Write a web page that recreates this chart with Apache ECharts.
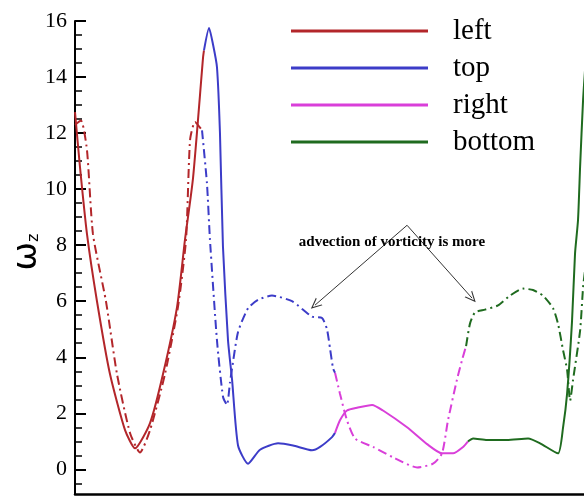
<!DOCTYPE html>
<html>
<head>
<meta charset="utf-8">
<script src="https://cdn.jsdelivr.net/npm/echarts@6/dist/echarts.min.js"></script>
<style>
  html, body { margin: 0; padding: 0; background: #fff; }
  #chart { width: 584px; height: 497px; }
</style>
</head>
<body>
<div id="chart"></div>
<script>
// 曲线名称（图例）
const seriesNames = ['left', 'top', 'right', 'bottom'];
const seriesColors = ['#b3262a', '#3c3cc8', '#d93fd9', '#1f6b1f'];

// 沿边界的位置 s (0-4)，数值 ωz
const leftSolid = [[0, 12.75], [0.038, 10.8], [0.092, 8.4], [0.169, 6.0], [0.269, 3.4], [0.385, 1.4],
  [0.462, 0.75], [0.577, 1.65], [0.677, 3.4], [0.785, 5.8], [0.846, 8.2], [0.908, 10.4], [0.985, 14.7], [0.992, 14.95]];
const leftDash = [[0, 12.3], [0.046, 12.45], [0.092, 11.4], [0.138, 8.4], [0.238, 6.0], [0.323, 3.4], [0.423, 1.3],
  [0.5, 0.6], [0.577, 1.4], [0.692, 3.4], [0.792, 5.8], [0.854, 8.2], [0.885, 11.75], [0.923, 12.4], [0.977, 12.1]];
const topSolid = [[0.992, 14.95], [1.031, 15.75], [1.062, 15.15], [1.092, 14.35], [1.115, 12.0], [1.138, 7.95],
  [1.177, 4.6], [1.208, 3.2], [1.254, 0.85], [1.331, 0.2], [1.423, 0.7], [1.562, 0.93], [1.677, 0.85],
  [1.823, 0.68], [1.885, 0.8], [1.977, 1.15], [2.0, 1.3]];
const topDash = [[0.977, 12.1], [1.015, 10.2], [1.038, 8.2], [1.092, 4.6], [1.138, 2.6], [1.169, 2.3], [1.192, 3.1],
  [1.208, 3.6], [1.254, 4.9], [1.331, 5.75], [1.408, 6.05], [1.515, 6.2], [1.669, 6.0], [1.823, 5.45],
  [1.9, 5.4], [1.938, 5.0], [1.962, 4.3], [1.985, 3.6], [2.0, 3.45]];
const rightSolid = [[2.0, 1.3], [2.038, 1.75], [2.092, 2.1], [2.169, 2.2], [2.285, 2.3], [2.369, 2.1], [2.554, 1.5],
  [2.708, 0.9], [2.823, 0.57], [2.908, 0.57], [2.985, 0.8], [3.023, 1.0]];
const rightDash = [[2.0, 3.45], [2.038, 2.7], [2.092, 1.75], [2.154, 1.1], [2.292, 0.8], [2.446, 0.43], [2.631, 0.07],
  [2.754, 0.2], [2.823, 0.57], [2.869, 1.75], [2.938, 3.2], [2.977, 3.9], [3.008, 4.4]];
const bottomSolid = [[3.023, 1.0], [3.062, 1.1], [3.169, 1.05], [3.323, 1.05], [3.485, 1.1], [3.577, 0.93],
  [3.715, 0.57], [3.754, 1.5], [3.785, 2.7], [3.823, 5.3], [3.846, 7.7], [3.869, 8.9], [3.885, 10.8],
  [3.908, 13.2], [3.923, 14.25]];
const bottomDash = [[3.008, 4.4], [3.038, 5.2], [3.077, 5.6], [3.154, 5.7], [3.254, 5.85], [3.346, 6.2], [3.446, 6.45],
  [3.523, 6.4], [3.6, 6.2], [3.677, 5.75], [3.715, 5.2], [3.754, 4.25], [3.785, 3.55], [3.808, 2.45],
  [3.831, 3.2], [3.885, 4.95], [3.908, 6.5], [3.923, 7.1]];

// y轴刻度
const majorTicks = [0, 2, 4, 6, 8, 10, 12, 14, 16];
const minorTicks = [-0.5, 0.5, 1, 1.5, 2.5, 3, 3.5, 4.5, 5, 5.5, 6.5, 7, 7.5, 8.5, 9, 9.5,
  10.5, 11, 11.5, 12.5, 13, 13.5, 14.5, 15, 15.5];

const chart = echarts.init(document.getElementById('chart'));

const solidData = [leftSolid, topSolid, rightSolid, bottomSolid];
const dashData = [leftDash, topDash, rightDash, bottomDash];

let series = [];
seriesNames.forEach(function (name, i) {
  series.push({
    name: name,
    type: 'line',
    data: solidData[i],
    showSymbol: false,
    smooth: 0.2,
    color: seriesColors[i],
    lineStyle: { width: 2, color: seriesColors[i] }
  });
});
seriesNames.forEach(function (name, i) {
  series.push({
    name: name + '-dash',
    type: 'line',
    data: dashData[i],
    showSymbol: false,
    smooth: 0.2,
    color: seriesColors[i],
    lineStyle: { width: 2, color: seriesColors[i], type: [9, 4, 2, 4] }
  });
});

// 注释箭头（开口箭头）
const openArrow = 'path://M5,0 L10,10 L8.8,10 L5,2.4 L1.2,10 L0,10 Z';
series[0].markLine = {
  silent: true,
  animation: false,
  symbol: ['none', openArrow],
  symbolSize: [10, 11],
  label: { show: false },
  lineStyle: { color: '#333', width: 1, type: 'solid' },
  data: [
    [{ coord: [2.554, 8.71] }, { coord: [1.846, 5.86] }],
    [{ coord: [2.554, 8.71] }, { coord: [3.054, 6.11] }]
  ]
};
series[0].markPoint = {
  silent: true,
  animation: false,
  symbol: 'circle',
  symbolSize: 0,
  data: [{ coord: [2.438, 8.1] }],
  label: {
    show: true,
    position: 'inside',
    formatter: 'advection of vorticity is more',
    fontFamily: 'Liberation Serif',
    fontWeight: 'bold',
    fontSize: 15,
    color: '#000'
  }
};

let option = {
  animation: false,
  backgroundColor: '#fff',
  grid: { left: 75, right: 0, top: 21, bottom: 3, outerBoundsMode: 'none' },
  legend: {
    data: seriesNames,
    orient: 'vertical',
    left: 286,
    top: 11,
    icon: 'rect',
    itemWidth: 137,
    itemHeight: 3,
    itemGap: 7,
    selectedMode: false,
    textStyle: {
      fontFamily: 'Liberation Serif',
      fontSize: 29,
      lineHeight: 30,
      color: '#000',
      padding: [0, 0, 0, 20]
    }
  },
  xAxis: {
    type: 'value',
    min: 0,
    max: 3.915,
    axisLine: { show: true, onZero: false, lineStyle: { color: '#000', width: 2.5 } },
    axisTick: { show: false },
    axisLabel: { show: false },
    splitLine: { show: false }
  },
  yAxis: [{
    type: 'value',
    min: -0.88,
    max: 16,
    axisLine: { show: true, onZero: false, lineStyle: { color: '#000', width: 2 } },
    axisTick: { show: true, inside: true, length: 11, customValues: majorTicks, lineStyle: { color: '#000', width: 2 } },
    axisLabel: { customValues: majorTicks, margin: 8, fontFamily: 'Liberation Serif', fontSize: 22, color: '#000' },
    splitLine: { show: false }
  }, {
    type: 'value',
    min: -0.88,
    max: 16,
    position: 'left',
    axisLine: { show: false, onZero: false },
    axisTick: { show: true, inside: true, length: 7, customValues: minorTicks, lineStyle: { color: '#000', width: 1.5 } },
    axisLabel: { show: false },
    splitLine: { show: false }
  }],
  graphic: [{
    type: 'text',
    x: 27,
    y: 252,
    rotation: Math.PI / 2,
    style: {
      text: '{w|ω}{s|z}',
      align: 'center',
      verticalAlign: 'middle',
      rich: {
        w: { fontFamily: 'DejaVu Sans', fontSize: 34, color: '#000' },
        s: { fontFamily: 'DejaVu Sans', fontSize: 16, color: '#000', padding: [14, 0, 0, 0] }
      }
    }
  }],
  series: series
};

chart.setOption(option);
</script>
</body>
</html>
